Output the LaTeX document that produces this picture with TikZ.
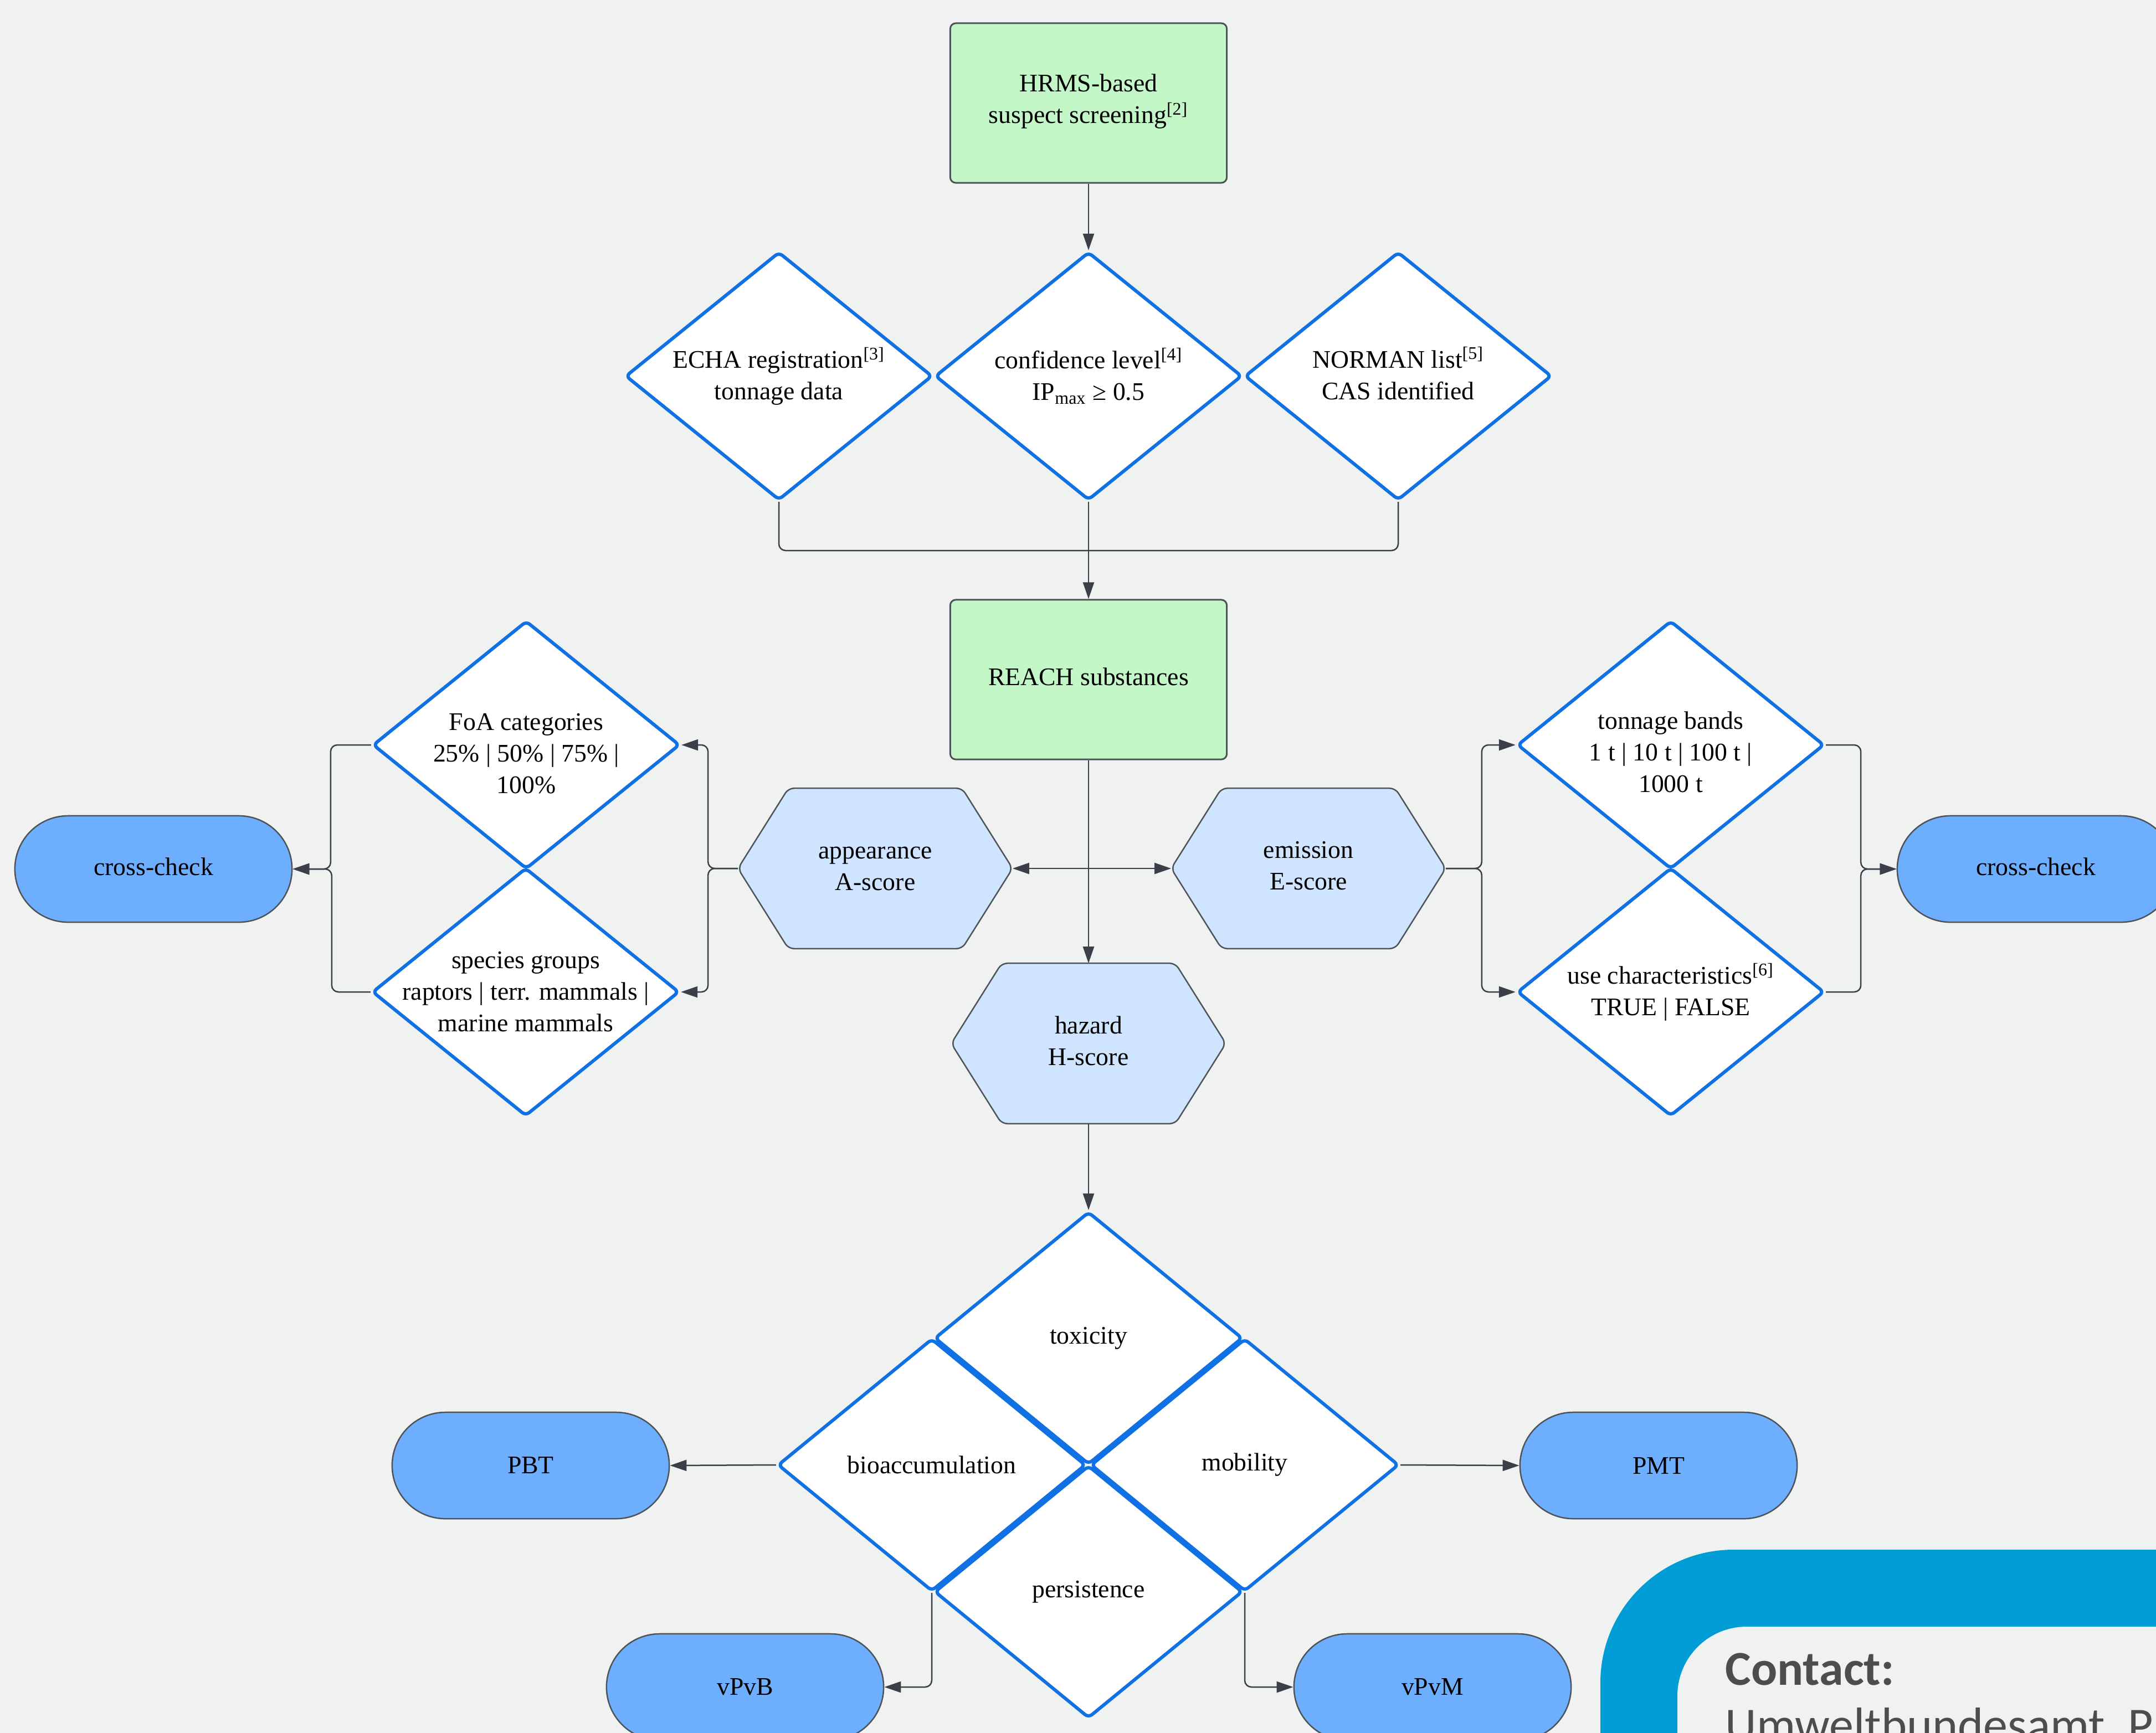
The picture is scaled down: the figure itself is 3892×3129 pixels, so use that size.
\documentclass[tikz,border=0pt]{standalone}
\usepackage{fontspec}
\setmainfont{Liberation Serif}
\newfontfamily\contactfont{Carlito}
\usetikzlibrary{shapes.geometric,shapes.misc,arrows.meta}
\definecolor{bgc}{HTML}{F0F2F1}
\definecolor{greenf}{HTML}{C3F7C8}
\definecolor{boxline}{HTML}{4E5357}
\definecolor{dblue}{HTML}{1071E5}
\definecolor{hexf}{HTML}{CFE4FF}
\definecolor{stadf}{HTML}{6DAFFE}
\definecolor{connc}{HTML}{3B4048}
\definecolor{ubablue}{HTML}{009CD6}
\definecolor{ctext}{HTML}{4D4D4D}
\begin{document}
\begin{tikzpicture}[x=0.01cm,y=-0.01cm,
  every node/.style={font=\fontsize{13pt}{16.2pt}\selectfont, text=black},
  greenbox/.style={draw=boxline, line width=0.03cm, fill=greenf, rounded corners=0.1cm,
    minimum width=4.99cm, minimum height=2.88cm, inner sep=0pt},
  dia/.style={diamond, draw=dblue, line width=0.06cm, fill=white,
    minimum width=5.54cm, minimum height=4.48cm, inner sep=0pt, rounded corners=0.08cm},
  qdia/.style={diamond, draw=dblue, line width=0.06cm, fill=white,
    minimum width=5.56cm, minimum height=4.56cm, inner sep=0pt, rounded corners=0.08cm},
  txt/.style={align=center, inner sep=0pt},
  hexbox/.style={minimum width=4.94cm, minimum height=2.88cm, inner sep=0pt, draw=none},
  hexline/.style={draw=boxline, line width=0.025cm, fill=hexf, rounded corners=0.1cm},
  stad/.style={rounded rectangle, draw=boxline, line width=0.025cm, fill=stadf,
    minimum width=5cm, minimum height=1.92cm, inner sep=0pt},
  conn/.style={draw=connc, line width=0.025cm, rounded corners=0.12cm},
  arr/.style={conn, -{Triangle[length=0.3cm,width=0.2cm]}},
  ctxt/.style={anchor=base west, inner sep=0pt, text=ctext}
]
\useasboundingbox (0,0) rectangle (3892,3129);
\clip (0,0) rectangle (3892,3129);
\fill[bgc] (0,0) rectangle (3892,3129);

% contact box
\fill[ubablue, rounded corners=2.4cm] (2889,2798) rectangle (4400,3600);
\fill[bgc, rounded corners=1.25cm] (3028,2937) rectangle (4400,3600);
\node[ctxt, font={\contactfont\bfseries\fontsize{25pt}{30pt}\selectfont}] (ct) at (3114,3042) {Contact:};
\node[ctxt, font={\contactfont\fontsize{25pt}{30pt}\selectfont}] (cu) at (3114,3144) {Umweltbundesamt, P};

% top
\node[greenbox] (hrms) at (1965,186) {};
\node[txt] (hrmst) at ([yshift=0.03cm]hrms.center) {HRMS-based\\suspect screening\textsuperscript{[2]}};

\node[dia] (echa) at (1406,679) {};
\node[txt] (echat) at (echa) {ECHA registration\textsuperscript{[3]}\\tonnage data};
\node[dia] (conf) at (1965,679) {};
\node[txt] (conft) at (conf) {confidence level\textsuperscript{[4]}\\IP\textsubscript{max} ≥ 0.5};
\node[dia] (norm) at (2524,679) {};
\node[txt] (normt) at ([yshift=0.05cm]norm.center) {NORMAN list\textsuperscript{[5]}\\CAS identified};

\node[greenbox] (reach) at (1965,1227) {};
\node[txt] (reacht) at ([yshift=0.05cm]reach.center) {REACH substances};

% hexagons
\node[hexbox] (app) at (1580,1568) {};
\draw[hexline] (app.west) -- ([xshift=0.91cm]app.north west) -- ([xshift=-0.91cm]app.north east)
  -- (app.east) -- ([xshift=-0.91cm]app.south east) -- ([xshift=0.91cm]app.south west) -- cycle;
\node[txt] (appt) at (app) {appearance\\A-score};

\node[hexbox] (emi) at (2362,1568) {};
\draw[hexline] (emi.west) -- ([xshift=0.91cm]emi.north west) -- ([xshift=-0.91cm]emi.north east)
  -- (emi.east) -- ([xshift=-0.91cm]emi.south east) -- ([xshift=0.91cm]emi.south west) -- cycle;
\node[txt] (emit) at ([yshift=0.05cm]emi.center) {emission\\E-score};

\node[hexbox] (haz) at (1965,1884) {};
\draw[hexline] (haz.west) -- ([xshift=0.91cm]haz.north west) -- ([xshift=-0.91cm]haz.north east)
  -- (haz.east) -- ([xshift=-0.91cm]haz.south east) -- ([xshift=0.91cm]haz.south west) -- cycle;
\node[txt] (hazt) at ([yshift=0.05cm]haz.center) {hazard\\H-score};

% side diamonds
\node[dia] (foa) at (950,1345) {};
\node[txt] (foat) at ([yshift=-0.16cm]foa.center) {FoA categories\\25\% | 50\% | 75\% |\\100\%};
\node[dia] (spec) at (949,1791) {};
\node[txt] (spect) at (spec) {species groups\\raptors | terr. mammals |\\marine mammals};
\node[dia] (ton) at (3016,1345) {};
\node[txt] (tont) at ([yshift=-0.13cm]ton.center) {tonnage bands\\1 t | 10 t | 100 t |\\1000 t};
\node[dia] (use) at (3016,1791) {};
\node[txt] (uset) at (use) {use characteristics\textsuperscript{[6]}\\TRUE | FALSE};

\node[stad] (crossL) at (277,1569) {};
\node[txt] (crossLt) at ([yshift=0.04cm]crossL.center) {cross-check};
\node[stad] (crossR) at (3675,1569) {};
\node[txt] (crossRt) at ([yshift=0.04cm]crossR.center) {cross-check};

% hazard quad
\node[qdia] (tox) at (1965,2416) {};
\node[txt] (toxt) at (tox) {toxicity};
\node[qdia] (bio) at (1682,2645) {};
\node[txt] (biot) at (bio) {bioaccumulation};
\node[qdia] (mob) at (2247,2645) {};
\node[txt] (mobt) at (mob) {mobility};
\node[qdia] (per) at (1965,2874) {};
\node[txt] (pert) at (per) {persistence};

\node[stad] (pbt) at (958,2646) {PBT};
\node[stad] (pmt) at (2994,2646) {PMT};
\node[stad] (vpvb) at (1345,3046) {vPvB};
\node[stad] (vpvm) at (2586,3046) {vPvM};

% connectors
\coordinate (j1) at (1965,994);
\coordinate (j2) at (1965,1568);
\draw[arr] (hrms.south) -- (conf.north);
\draw[conn] (echa.south) |- (j1);
\draw[conn] (norm.south) |- (j1);
\draw[arr] (conf.south) -- (reach.north);
\draw[arr] (reach.south) -- (haz.north);
\draw[arr] (j2) -- (app.east);
\draw[arr] (j2) -- (emi.west);
\draw[arr] (app.west) -- ++(-54,0) |- (foa.east);
\draw[arr] (app.west) -- ++(-54,0) |- (spec.east);
\draw[arr] (foa.west) -- ++(-73,0) |- (crossL.east);
\draw[arr] (spec.west) -- ++(-70,0) |- (crossL.east);
\draw[arr] (emi.east) -- ++(65,0) |- (ton.west);
\draw[arr] (emi.east) -- ++(65,0) |- (use.west);
\draw[arr] (ton.east) -- ++(63,0) |- (crossR.west);
\draw[arr] (use.east) -- ++(63,0) |- (crossR.west);
\draw[arr] (haz.south) -- (tox.north);
\draw[arr] (bio.west) -- (pbt.east);
\draw[arr] (mob.east) -- (pmt.west);
\draw[arr] (bio.south) |- (vpvb.east);
\draw[arr] (mob.south) |- (vpvm.west);
\end{tikzpicture}
\end{document}
